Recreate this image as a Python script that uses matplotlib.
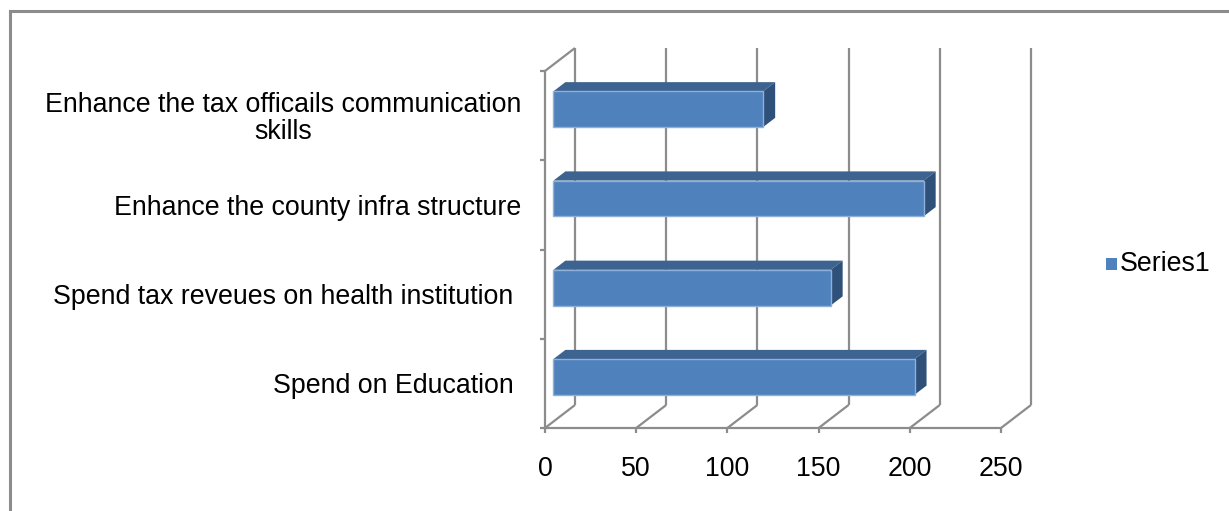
import matplotlib.pyplot as plt
from matplotlib.patches import Polygon, Rectangle

plt.rcParams['font.family'] = ['Liberation Sans', 'DejaVu Sans']

# Chart data
categories = ['Spend on Education ',
              'Spend tax reveues on health institution ',
              'Enhance the county infra structure',
              'Enhance the tax officails communication\nskills']
values = [198, 152, 203, 115]
xticks = [0, 50, 100, 150, 200, 250]
series_name = 'Series1'

front_c = '#4F81BD'
top_c = '#3D6491'
side_c = '#2F5079'
grid_c = '#8C8C8C'
fs = 19.3

W, H = 1229, 511
fig = plt.figure(figsize=(W / 100, H / 100), dpi=100)

# axes spans the front plane of the 3D box: value 0..250, categories -0.5..3.5
x0, x1, ytop, ybot = 545, 1001, 71, 428
ax = fig.add_axes([x0 / W, (H - ybot) / H, (x1 - x0) / W, (ybot - ytop) / H])
ax.set_xlim(0, 250)
ax.set_ylim(-0.5, 3.5)
ax.axis('off')

n = len(categories)
px_x = (x1 - x0) / 250.0
px_y = (ybot - ytop) / n
ddx = 30 / px_x      # depth offset in data units
ddy = 23 / px_y

lw = 1.6
kw = dict(color=grid_c, lw=lw, clip_on=False, solid_capstyle='butt')

# back wall gridlines and floor diagonals
for v in xticks:
    ax.plot([v + ddx, v + ddx], [-0.5 + ddy, 3.5 + ddy], **kw)
    ax.plot([v, v + ddx], [-0.5, -0.5 + ddy], **kw)
# front floor edge and left wall edges
ax.plot([0, 250], [-0.5, -0.5], **kw)
ax.plot([0, 0], [-0.5, 3.5], **kw)
ax.plot([0, ddx], [3.5, 3.5 + ddy], **kw)

# tick marks
tx = 5 / px_x
ty = 5 / px_y
for i in range(n + 1):
    ax.plot([-tx, 0], [i - 0.5, i - 0.5], **kw)
for v in xticks:
    ax.plot([v, v], [-0.5, -0.5 - ty], **kw)
    ax.text(v, -0.5 - 41 / px_y, str(v), ha='center', va='center',
            fontsize=fs, color='black', clip_on=False)

# category labels
for i, lab in enumerate(categories):
    ax.text(-24 / px_x, i - 0.03, lab, ha='right', va='center',
            multialignment='center', fontsize=fs, color='black',
            linespacing=1.08, clip_on=False)

# 3D bars
f1, f2 = 0.28, 0.68
hw = 0.2
for i, v in enumerate(values):
    bx, by = f1 * ddx, i + f1 * ddy
    ex, ey = (f2 - f1) * ddx, (f2 - f1) * ddy
    top = Polygon([(bx, by + hw), (bx + v, by + hw), (bx + v + ex, by + hw + ey),
                   (bx + ex, by + hw + ey)], closed=True, fc=top_c, ec='none',
                  clip_on=False, zorder=3)
    side = Polygon([(bx + v, by - hw), (bx + v + ex, by - hw + ey),
                    (bx + v + ex, by + hw + ey), (bx + v, by + hw)], closed=True,
                   fc=side_c, ec='none', clip_on=False, zorder=3)
    front = Rectangle((bx, by - hw), v, 2 * hw, fc=front_c, ec='#8FB0DA',
                      lw=1.0, clip_on=False, zorder=4)
    ax.add_patch(top)
    ax.add_patch(side)
    ax.add_patch(front)

# legend
fig.patches.append(Rectangle((1106 / W, (H - 270) / H), 11 / W, 12 / H,
                             transform=fig.transFigure, fc=front_c, ec='none'))
fig.text(1120 / W, (H - 264) / H, series_name, ha='left', va='center',
         fontsize=fs, color='black')

# outer chart border (top and left)
fig.add_artist(plt.Line2D([9.5 / W, 1], [(H - 11) / H, (H - 11) / H],
                          transform=fig.transFigure, color='#8C8C8C', lw=2.2))
fig.add_artist(plt.Line2D([9.5 / W, 9.5 / W], [0, (H - 11) / H],
                          transform=fig.transFigure, color='#8C8C8C', lw=2.2))

fig.savefig('out.png', dpi=100, facecolor='white')
